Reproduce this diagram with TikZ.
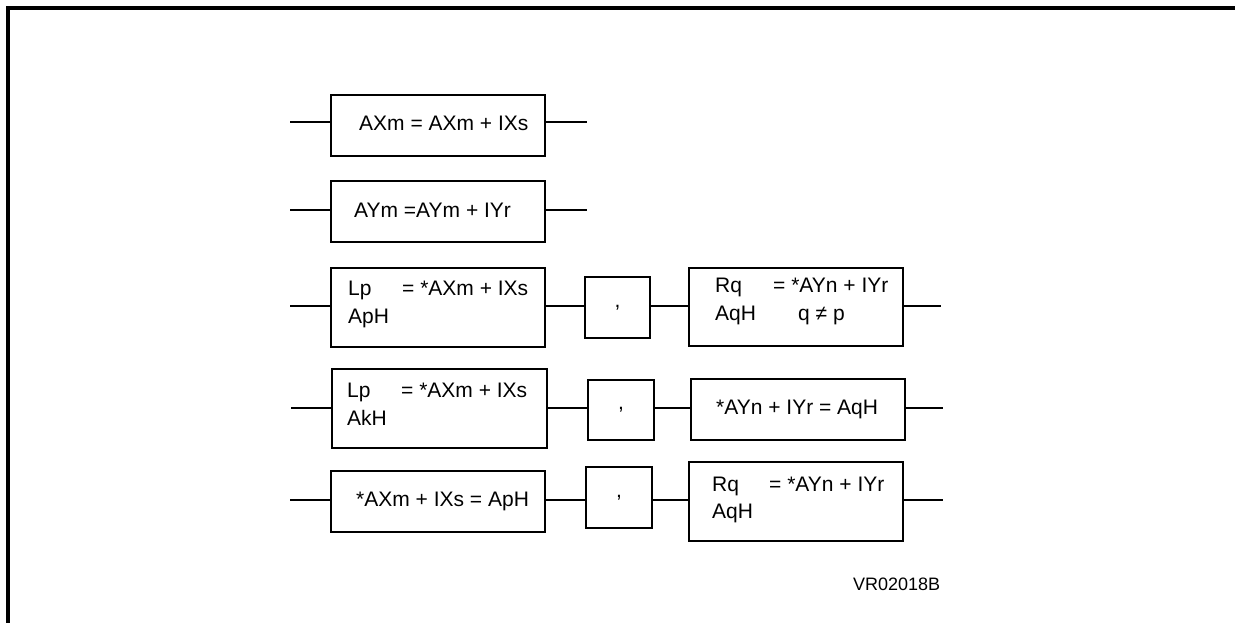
\documentclass[tikz,border=0pt]{standalone}
\usepackage{fontspec}
\setmainfont{Liberation Sans}
\usepackage{tikz}
\usetikzlibrary{positioning}

\tikzset{
  opbox/.style 2 args={draw, line width=1.7pt, inner sep=0pt, outer sep=0pt,
    minimum width=#1pt, minimum height=#2pt, font=\fontsize{21}{25}\selectfont},
  optext/.style={anchor=base west, inner sep=0pt, font=\fontsize{21}{25}\selectfont},
  wire/.style={line width=1.6pt}
}

\begin{document}
\begin{tikzpicture}[x=1pt, y=-1pt]
    \useasboundingbox (0,0) rectangle (1235,623);

    % Frame
    \draw[line width=3.4pt] (8,640) -- (8,8) -- (1250,8);

    % Row 1
    \node[opbox={214}{61}] (A1) at (438,125.5) {};
    \node[optext] (T1) at (359,131) {AXm = AXm + IXs};
    \coordinate (S1) at (290,122);
    \coordinate (E1) at (587,122);
    \draw[wire] (S1) -- (S1 -| A1.west) (A1.east |- S1) -- (E1);

    % Row 2
    \node[opbox={214}{61}] (A2) at (438,211.5) {};
    \node[optext] (T2) at (354,218) {AYm =AYm + IYr};
    \coordinate (S2) at (290,210);
    \coordinate (E2) at (587,210);
    \draw[wire] (S2) -- (S2 -| A2.west) (A2.east |- S2) -- (E2);

    % Row 3
    \node[opbox={214}{79}] (L3) at (438,307.5) {};
    \node[opbox={65}{61}] (C3) at (617.5,307.5) {,};
    \node[opbox={214}{78}] (R3) at (796,307) {};
    \node[optext] (L3a) at (348,295) {Lp};
    \node[optext] (L3b) at (402,295) {= *AXm + IXs};
    \node[optext] (L3c) at (348,323) {ApH};
    \node[optext] (R3a) at (715,292) {Rq};
    \node[optext] (R3b) at (773,292) {= *AYn + IYr};
    \node[optext] (R3c) at (715,320) {AqH};
    \node[optext] (R3d) at (798,320) {q ≠ p};
    \coordinate (S3) at (290,306);
    \coordinate (E3) at (941,306);
    \draw[wire] (S3) -- (S3 -| L3.west) (L3.east |- S3) -- (S3 -| C3.west)
        (C3.east |- S3) -- (S3 -| R3.west) (R3.east |- S3) -- (E3);

    % Row 4
    \node[opbox={215}{79}] (L4) at (439.5,408.5) {};
    \node[opbox={66}{60}] (C4) at (621,410) {,};
    \node[opbox={214}{61}] (R4) at (798,409.5) {};
    \node[optext] (L4a) at (347,397) {Lp};
    \node[optext] (L4b) at (401,397) {= *AXm + IXs};
    \node[optext] (L4c) at (347,425) {AkH};
    \node[optext] (R4a) at (716,414) {*AYn + IYr = AqH};
    \coordinate (S4) at (291,408);
    \coordinate (E4) at (943,408);
    \draw[wire] (S4) -- (S4 -| L4.west) (L4.east |- S4) -- (S4 -| C4.west)
        (C4.east |- S4) -- (S4 -| R4.west) (R4.east |- S4) -- (E4);

    % Row 5
    \node[opbox={214}{61}] (L5) at (438,501.5) {};
    \node[opbox={66}{61}] (C5) at (619,497.5) {,};
    \node[opbox={214}{79}] (R5) at (796,501.5) {};
    \node[optext] (L5a) at (356,506) {*AXm + IXs = ApH};
    \node[optext] (R5a) at (712,491) {Rq};
    \node[optext] (R5b) at (769,491) {= *AYn + IYr};
    \node[optext] (R5c) at (712,518) {AqH};
    \coordinate (S5) at (290,500);
    \coordinate (E5) at (943,500);
    \draw[wire] (S5) -- (S5 -| L5.west) (L5.east |- S5) -- (S5 -| C5.west)
        (C5.east |- S5) -- (S5 -| R5.west) (R5.east |- S5) -- (E5);

    % Figure code
    \node[anchor=base west, inner sep=0pt, font=\fontsize{18}{22}\selectfont] (VR) at (853,590) {VR02018B};
\end{tikzpicture}
\end{document}
